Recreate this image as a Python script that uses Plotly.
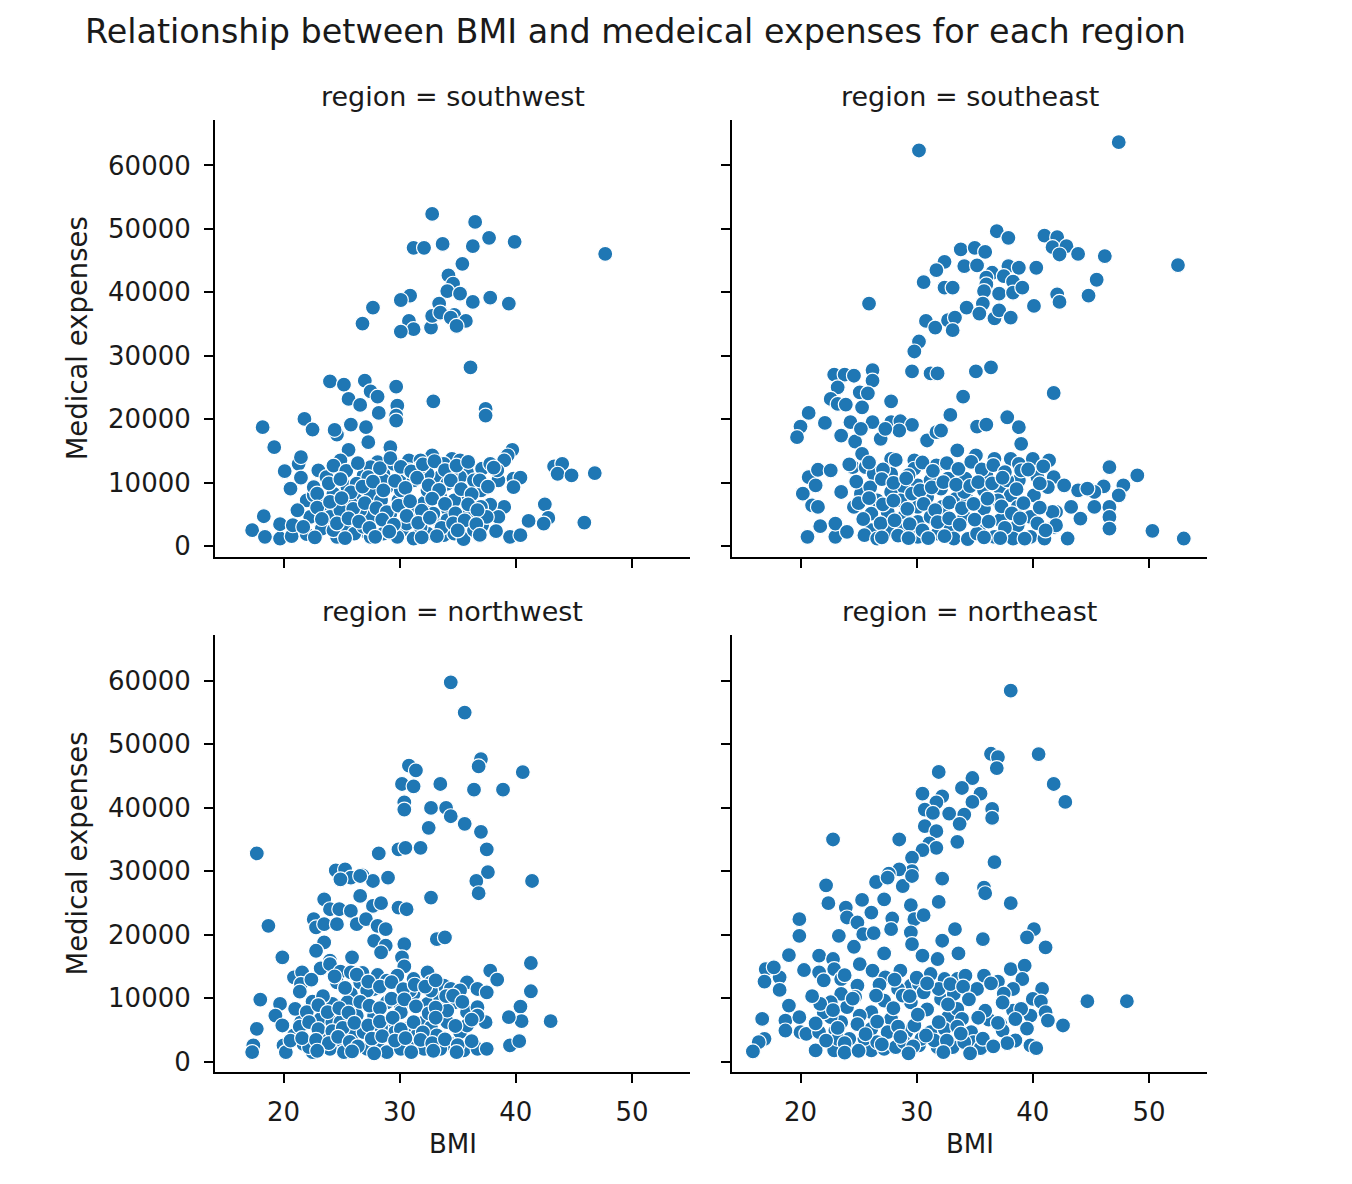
import plotly.graph_objects as go

# ---------------- data ----------------
regions = ["southwest", "southeast", "northwest", "northeast"]

sw_bmi = [32.8, 36.5, 37.7, 39.9, 47.7, 31.2, 32.1, 33.7, 36.3, 35.4, 34.2, 34.6, 34.1, 35.2, 36.3, 37.8, 39.4, 33.4,
          30.9, 30.1, 27.7, 26.8, 30.8, 31.2, 30.1, 32.7, 32.8, 33.5, 34.7, 34.4, 35.7, 34.9, 36.1,
          24.0, 25.2, 27.0, 27.5, 28.1, 29.7, 25.6, 26.6, 32.9, 37.4, 37.4, 29.8, 29.7, 29.7, 28.2, 21.8, 22.5,
          18.2, 19.2, 25.8, 27.1, 24.6, 24.4, 27.3, 29.2, 25.6, 39.7, 39.3, 39.0, 43.3, 44.0, 43.6, 44.8, 46.8,
          42.5, 42.8, 42.4, 41.1, 45.9, 39.5, 40.4, 39.8, 40.4, 39.8, 38.5, 39.0, 38.5, 37.8, 37.1,
          17.3, 18.4, 19.7, 20.7, 19.7, 20.8, 22.0, 23.3, 18.3, 20.1, 21.3, 21.5, 21.5, 20.6, 22.0, 22.6, 23.0,
          23.7, 24.9, 25.6, 24.2, 25.8, 27.1, 25.8, 24.6,
          28.1, 30.8, 32.8, 34.5, 35.8, 37.1, 33.4, 30.4, 28.6, 26.9, 25.5, 27.5, 29.9, 32.1, 34.1, 35.8, 37.0,
          35.2, 33.5, 31.5, 30.2, 28.8, 27.5, 26.3, 24.3, 23.5, 22.6, 24.0, 25.2, 26.1, 27.5, 28.6, 29.8, 31.2,
          32.4, 33.8, 34.7, 35.5, 36.4, 28.9, 31.2, 32.4, 34.1, 35.2, 36.4, 37.8, 38.4, 27.5, 29.5, 31.8, 33.8,
          32.4, 30.1, 28.4, 26.6, 30.9, 32.9, 34.7, 35.8, 37.0, 33.5, 31.8, 26.9, 24.3, 25.8, 24.9, 29.2, 30.6,
          34.1, 37.5, 26.3, 28.6, 30.8, 31.8, 35.2, 34.4, 22.9, 22.3, 21.2, 21.7,
          24.3, 25.4, 26.4, 27.3, 28.3, 29.2, 30.1, 31.0, 32.0, 33.0, 33.9, 34.9, 35.9, 36.9, 38.1,
          23.9, 24.9, 25.8, 26.8, 27.7, 28.6, 29.6, 30.5, 31.5, 32.5, 33.4, 34.4, 35.3, 36.2, 37.6,
          22.9, 24.0, 25.0, 26.0, 27.0, 28.0, 28.9, 29.9, 30.9, 31.9, 32.8, 33.9, 34.8, 35.9, 36.7,
          23.3, 24.6, 25.6, 26.5, 27.4, 28.5, 29.5, 30.6, 31.6, 32.6, 33.6, 34.6, 35.6, 36.6, 38.3,
          22.7, 25.3, 27.9, 29.1, 31.9, 33.2, 35.0, 36.9]
sw_exp = [52350, 51100, 48590, 47960, 46070, 47020, 47020, 47640, 47280, 44500, 42670, 41360, 40210, 39800, 38490,
          39170, 38230, 38230, 39480, 38800, 37600, 35090, 35500, 34200, 33830, 34460, 36290, 36810, 36450, 36030,
          35500, 34720, 28180,
          25980, 25460, 26090, 24410, 23570, 25150, 23210, 22270, 22840, 21640, 20590, 22160, 20590, 19810, 21010,
          20070, 18400, 18760, 15620, 19180, 18760, 17610, 18340, 16410, 15620, 15200, 15200, 14310, 13530, 12590,
          13000, 11430, 11170, 11540, 6620, 4475, 3580, 4000, 3740, 1490, 1750, 10650, 10810, 9340, 10390, 6200,
          4630, 6570, 3320,
          2540, 1490, 1230, 1600, 3480, 3320, 1910, 2800, 4740, 11850, 13000, 14050, 10810, 9080, 7250, 8030, 11960,
          10910, 13530, 9080, 5420, 5260, 2280, 2010, 1490,
          13270, 13530, 14310, 13790, 11700, 12220, 10810, 10810, 11430, 11170, 9340, 8300, 7250, 6830, 5940, 7250,
          8820, 4630, 3580, 4110, 2540, 3580, 4630, 7250, 8300, 6720, 9340, 4630, 3060, 2010, 1490, 2010, 1490, 1230,
          2010, 1750, 2010, 1150, 2540, 9340, 10390, 8820, 9860, 10910, 10390, 13000, 11960, 12480, 13000, 13530,
          13000, 11430, 8820, 7250, 5680, 5680, 5160, 7250, 5160, 6200, 7770, 3060, 3060, 2540, 6720, 5680, 5160,
          3580, 4110, 4630, 9860, 10390, 11960, 12480, 13530, 11430, 8300, 4630, 5680, 3060,
          12700, 11900, 13100, 10900, 12300, 13900, 12500, 11800, 12900, 13400, 12000, 12700, 13300, 10400, 12400,
          9900, 10600, 8500, 9400, 10200, 8800, 10300, 9200, 10800, 9600, 8900, 10400, 9000, 8200, 9400,
          6100, 7000, 7600, 5900, 6800, 6000, 5400, 6400, 7100, 5600, 7500, 6700, 5200, 6600, 5700,
          4300, 3600, 4400, 3900, 2900, 4200, 3400, 4800, 3700, 4500, 2900, 3600, 4100, 3500, 2400,
          1400, 1300, 1500, 2300, 1400, 1600, 2500, 1800]

se_bmi = [30.2, 47.4, 36.9, 37.9, 41.0, 42.1, 41.7, 42.9, 42.3, 43.9, 46.2, 52.5, 33.8, 35.0, 35.9, 32.4, 31.7, 34.1,
          35.2, 36.5, 37.9, 38.8, 40.3, 36.0, 37.5, 38.3, 30.6, 32.4, 33.1, 36.0, 35.8, 37.1, 38.3, 39.1, 42.1, 42.3,
          44.8, 45.5, 40.1, 25.9, 34.3, 35.7, 35.4, 36.7, 37.1, 38.1, 30.8, 31.6, 32.7, 33.3, 33.1, 30.2, 29.8,
          22.9, 23.8, 24.6, 26.2, 26.2, 29.6, 31.2, 31.8, 35.1, 36.4,
          23.2, 25.1, 25.8, 22.6, 23.2, 23.9, 25.3, 27.8, 34.0, 41.8, 20.7, 20.0, 19.7, 22.1, 23.5, 24.7, 24.3, 26.2,
          25.2, 27.8, 28.6, 29.6, 28.5, 26.9, 27.3, 30.9, 31.7, 32.1, 32.9, 35.2, 36.0, 37.8, 38.8, 39.0,
          46.6, 49.0, 47.8, 47.4, 46.1, 45.3, 43.9, 44.7, 45.3, 46.6, 46.6, 46.6, 44.1, 43.3, 42.0, 41.8, 43.0, 50.3,
          53.0, 20.2, 21.0, 21.5, 20.7, 21.5, 22.6, 21.3, 20.6, 21.7, 23.0, 23.0, 24.0,
          25.3, 24.5, 25.6, 26.3, 27.8, 27.8, 29.8, 29.8, 31.7, 33.5, 35.1, 36.7, 38.1, 38.8, 40.0, 41.4, 40.4, 41.8,
          42.7,
          23.5, 25.2, 26.6, 27.8, 28.9, 30.1, 31.2, 32.7, 34.2, 36.0, 37.1, 38.1, 38.8, 40.1, 41.3, 24.6, 26.1, 27.5,
          28.9, 30.1, 30.9, 32.2, 33.4, 34.4, 35.8, 37.0, 38.7, 39.8, 41.7, 26.1, 27.5, 28.9, 30.1, 31.2, 32.9, 34.1,
          35.4, 36.7, 37.2, 38.7, 39.8, 41.0, 25.5, 26.6, 30.1, 31.8, 33.2, 34.4, 35.2, 38.3, 42.0, 28.6, 29.6, 32.1,
          34.1, 35.8, 37.8, 39.0,
          24.2, 25.9, 27.1, 28.2, 29.3, 30.5, 31.4, 32.6, 33.6, 34.7, 35.6, 36.6, 37.6, 39.6, 40.9,
          24.8, 26.0, 27.0, 28.0, 29.1, 30.3, 31.3, 32.3, 33.4, 34.6, 35.3, 36.5, 37.4, 38.6, 40.6,
          25.0, 25.9, 27.1, 28.0, 29.2, 30.6, 31.6, 32.8, 33.9, 34.9, 36.1, 37.3, 38.2, 39.2, 40.6,
          25.4, 26.9, 28.1, 29.4, 30.5, 31.8, 32.8, 33.7, 35.0, 36.2, 37.6, 38.9, 40.4, 41.1,
          27.0, 28.4, 29.3, 31.0, 32.4, 35.8, 37.2, 39.3]
se_exp = [62350, 63660, 49630, 48590, 48950, 48690, 47120, 47280, 45970, 46070, 45710, 44300, 46760, 47020, 46390,
          44820, 43510, 44140, 44240, 43090, 44140, 43880, 43880, 42310, 42570, 41680, 41630, 40740, 40740, 41260,
          40210, 39800, 39950, 40740, 39690, 38490, 39480, 41990, 37860, 38230, 37600, 38230, 36660, 35920, 37180,
          36030, 35500, 34460, 35610, 36030, 34040, 32260, 30690,
          27030, 27030, 26870, 27760, 26090, 27550, 27240, 27240, 27550, 28180,
          25040, 24260, 24100, 23210, 22430, 22320, 21900, 22840, 23570, 24150, 21010, 18870, 17190, 19440, 17450,
          16510, 19550, 19550, 18500, 19550, 19700, 19130, 18240, 16930, 18500, 16670, 17980, 18240, 20700, 18870,
          19180, 20330, 18760, 16150,
          12480, 11170, 9600, 8030, 9450, 8560, 8820, 9080, 6200, 6200, 4630, 2800, 4370, 6200, 5420, 3060, 1230, 2440,
          1230, 8300, 6460, 6200, 10910, 12060, 11960, 9600, 1490, 3170, 1490, 3580, 2280,
          14570, 12480, 12480, 11430, 13790, 11430, 13530, 12220, 12740, 15100, 14310, 13790, 13790, 13000, 13790,
          13530, 10910, 10910, 9600,
          8560, 8300, 7250, 8560, 9340, 9600, 10390, 10650, 10650, 11170, 9340, 8030, 10390, 8030, 9340, 6200, 5160,
          5420, 4630, 6200, 7770, 6200, 7510, 7250, 5940, 7250, 6200, 4630, 5420, 2540, 2540, 3060, 3850, 4630, 3060,
          4630, 3060, 1490, 4110, 3320, 1490, 1230, 1750, 1230, 1490, 2010, 1230, 1150, 2010, 1230, 3320, 7250, 8300,
          9080, 8560, 8820, 10390, 11960,
          12900, 13200, 12100, 13600, 11200, 13200, 11900, 13100, 12200, 13300, 12100, 12800, 11700, 12100, 12600,
          10200, 9300, 10600, 10000, 10700, 8800, 9300, 10100, 9700, 9500, 10100, 9900, 10800, 9000, 9900,
          6800, 7600, 6600, 7200, 5900, 6700, 5700, 6900, 6000, 6700, 7500, 6300, 5200, 6800, 6100,
          4300, 3600, 4100, 3500, 2500, 3800, 4400, 3400, 4200, 3900, 2900, 4400, 3600, 2500,
          1400, 1700, 1300, 1300, 1600, 1400, 1300, 1200]

nw_bmi = [34.4, 35.6, 30.8, 31.4, 37.0, 36.8, 40.6, 30.2, 31.2, 33.5, 36.4, 38.9, 30.4, 30.4, 32.7, 34.0, 34.4, 35.6,
          37.0, 32.5, 37.5, 17.7, 28.2, 29.9, 30.5, 31.8, 37.6, 24.5, 25.3, 25.8, 26.8, 27.7, 29.0, 36.6, 41.4,
          36.8, 24.9, 26.6, 23.5, 26.6, 24.0, 24.8, 25.8, 27.7, 28.4, 32.7, 29.9, 30.6, 22.6, 22.8, 23.5, 24.6, 26.3,
          27.1, 28.1, 28.8, 18.7, 27.8, 28.8, 28.4, 30.4, 33.2, 33.9, 23.5, 22.8, 25.9, 24.0, 19.9, 30.2, 30.4, 37.8,
          38.4, 41.3, 41.3, 40.4, 40.5, 39.4, 43.0, 39.5, 40.3, 18.0, 17.7, 17.4, 17.3, 20.9, 21.6, 21.5, 19.7, 19.3,
          19.9, 21.2, 20.0, 20.2, 21.7, 22.5, 21.5, 22.5,
          23.2, 24.0, 24.9, 25.8, 26.8, 28.1, 28.9, 29.8, 31.2, 32.4, 32.7, 33.8, 34.4, 35.8, 36.7, 37.5,
          24.6, 25.8, 26.6, 27.8, 28.9, 30.1, 31.2, 32.4, 33.5, 34.7, 35.8, 36.7, 37.4,
          23.2, 24.2, 24.2, 25.5, 26.3, 27.8, 28.9, 30.1, 30.9, 32.1, 32.7, 34.1, 35.2, 35.8, 36.7,
          23.5, 24.6, 25.9, 26.9, 28.1, 29.6, 30.9, 32.1, 33.2, 34.4, 35.5, 36.7, 37.5, 24.0, 25.2, 27.2, 28.9, 30.1,
          33.5, 20.9, 22.2, 27.2, 30.9, 32.7, 34.1, 24.9, 28.4, 31.5,
          21.4, 22.4, 23.4, 24.4, 25.3, 26.3, 27.3, 28.3, 29.3, 30.3, 31.3, 32.2, 33.1, 34.0, 35.2,
          21.0, 22.0, 23.0, 23.8, 24.8, 25.6, 26.6, 27.4, 28.3, 29.3, 30.4, 31.4, 32.5, 33.1, 34.6, 35.4,
          21.4, 22.2, 23.0, 24.2, 25.1, 26.1, 27.3, 28.3, 29.4, 30.1, 31.2, 32.0, 33.1, 34.8, 36.2,
          20.6, 21.6, 22.8, 23.9, 24.7, 25.7, 26.4, 27.6, 28.5, 29.6, 30.5, 31.8, 32.8, 33.9, 35.0, 36.2,
          22.9, 25.9, 27.8, 31.0, 32.9, 34.9]
nw_exp = [59730, 54970, 46600, 45860, 47640, 46490, 45600, 43720, 43350, 43720, 42830, 42830, 40840, 39690, 39950,
          39950, 38640, 37440, 36190, 36810, 33410, 32780, 32780, 33410, 33670, 33670, 29850, 30110, 30270, 28960,
          29330, 28440, 28960, 28440, 28440,
          26510, 28700, 29230, 25560, 26090, 23990, 23990, 23730, 24520, 24940, 25830, 24260, 23990, 22430, 21120,
          21640, 21640, 21640, 22430, 21380, 20850, 21380, 19020, 18240, 17190, 18500, 19290, 19550, 18760, 17450,
          16410, 15880, 16410, 16410, 14990, 14310, 12900, 15520, 11070, 8660, 6360, 6990, 6360, 2540, 3220, 9760,
          5160, 2540, 1490, 13270, 14050, 12220, 9080, 7250, 5680, 4110, 2540, 1490, 2800, 1490, 6200, 9440,
          14680, 15360, 14160, 14050, 13950, 13630, 12740, 13530, 13000, 14050, 12480, 11960, 11430, 12480, 11430,
          10910,
          12480, 10650, 12480, 11430, 9340, 8820, 10650, 9080, 9860, 9340, 7770, 8560, 6200,
          6720, 9080, 6200, 9340, 7250, 7250, 6200, 7770, 5420, 6200, 5420, 6200, 4630, 5680, 7250,
          4110, 3060, 4110, 4630, 3060, 4630, 2800, 2010, 4110, 2800, 1750, 2010, 2010, 2010, 1490, 2010, 1490, 2010,
          2010, 4110, 2280, 11170, 11170, 11170, 8030, 6200, 5420, 4110,
          11000, 12900, 10300, 13400, 11600, 13700, 12600, 11800, 12500, 11400, 12100, 11800, 12800, 10300, 11200,
          8300, 7800, 8900, 7800, 8400, 7700, 9400, 8800, 8400, 9900, 9800, 8700, 7600, 8500, 10400, 9400,
          5500, 6200, 5100, 4800, 5300, 6100, 5700, 6300, 6900, 5100, 6200, 4600, 6900, 5600, 6600,
          3300, 3700, 3400, 2900, 3900, 3100, 2400, 3600, 4000, 3300, 3700, 3400, 2900, 3500, 2600, 3200,
          1700, 1600, 1300, 1500, 1700, 1500]

ne_bmi = [38.1, 36.4, 37.0, 36.9, 40.5, 41.8, 42.8, 31.9, 34.8, 33.9, 35.5, 34.8, 30.5, 32.2, 31.7, 30.7, 31.4, 32.8,
          34.1, 36.5, 36.5, 30.7, 31.7, 33.7, 31.1, 31.7, 30.5, 29.6, 33.5, 28.5, 22.8, 36.7, 29.6, 28.5, 27.6, 32.2,
          26.5, 22.2, 28.8, 35.8,
          27.5, 29.6, 32.2, 22.4, 31.9, 35.9, 38.1, 23.9, 25.3, 26.1, 24.0, 24.9, 25.4, 26.3, 23.3, 27.2, 29.5, 27.9,
          27.8, 29.8, 30.6, 29.5, 29.6, 33.3, 32.2, 35.7, 33.6, 30.5, 31.8, 40.1, 39.5, 41.1, 19.9, 19.9, 19.0, 27.2,
          24.6, 17.0, 16.9, 18.2, 18.2, 17.7, 20.3, 21.6, 21.6, 22.8, 22.9, 23.5, 25.1, 26.2, 27.3, 28.6, 29.5, 30.2,
          31.2, 32.4, 33.5, 34.2, 35.8, 37.0, 38.1, 39.3, 39.1, 38.3, 35.2, 44.7, 48.1, 40.8, 40.0, 40.7, 39.8, 41.1,
          41.3, 42.6, 38.3, 39.0, 36.2, 37.2, 37.4, 38.5, 39.8, 40.3, 34.7, 34.9, 35.5, 16.7, 16.9, 16.4, 15.9, 19.0,
          18.7, 18.7, 19.9, 20.0, 20.5, 21.3, 22.9, 24.3, 26.1, 27.2, 28.2, 30.2, 31.8, 33.1, 21.6, 23.0, 23.5, 24.0,
          22.6, 22.0, 24.9, 23.5, 22.6, 21.7, 26.1, 25.1, 27.2, 28.4, 27.8, 26.1, 27.5, 29.1, 29.8, 31.2, 32.7, 32.4,
          33.5, 33.9, 29.5, 30.6, 32.1, 33.2, 31.9, 24.2, 25.5, 26.6, 28.9, 30.4, 31.5, 34.1, 23.2,
          22.0, 23.8, 24.7, 26.8, 28.1, 28.8, 30.0, 30.9, 32.9, 34.0, 36.4, 37.5,
          21.0, 22.8, 24.5, 26.5, 28.0, 29.4, 30.9, 32.7, 34.5, 35.9, 37.4, 38.5,
          21.3, 23.2, 24.9, 26.6, 28.4, 30.1, 31.9, 33.5, 35.3, 37.0, 39.5,
          22.2, 23.8, 25.6, 27.0, 28.6, 29.7, 30.8, 32.6, 33.8, 35.7, 37.8,
          23.8, 25.0, 29.3, 32.3, 34.6, 36.6]
ne_exp = [58420, 48480, 47960, 46230, 48430, 43720, 40890, 45610, 44660, 43090, 42200, 40890, 42200, 41780, 40840,
          39690, 39170, 39060, 38910, 39800, 38380, 37070, 36290, 37440, 34350, 33670, 33310, 32100, 34610, 34980,
          34980, 31420, 30010, 30270, 29590, 28960, 28280, 27760, 27650, 27390,
          28970, 29230, 28810, 24940, 25140, 26510, 24940, 24260, 25460, 23470, 22690, 21900, 20070, 20230, 19810,
          25560, 24620, 22530, 20850, 22430, 23050, 20330, 18500, 20850, 19030, 19290, 17030, 16670, 16150, 20850,
          19550, 17980, 22430, 19810, 16770, 17030, 18080, 14570, 12590, 13270, 11280, 14840, 14420, 16670, 14050,
          16150, 14570, 13000, 15360, 14310, 13270, 14310, 11960, 12220, 13790, 13000, 13000, 13530, 13530, 12590,
          14570, 15100, 13000, 11430, 11430, 9500, 9500, 11430, 9860, 9450, 7250, 7770, 6460, 5680, 8030, 8300, 6620,
          5940, 4890, 3320, 2540, 2120, 4630, 3060, 2120, 6720, 3580, 3060, 1600, 8820, 6460, 4890, 6990, 4630, 4370,
          1750, 1750, 2280, 1750, 2010, 2280, 2540, 2280, 2280, 4630, 4890, 6200, 8560, 6990, 7770, 11960, 10650,
          9340, 9080, 7770, 7250, 9600, 11430, 6720, 5160, 4630, 4630, 5680, 4630, 7000, 5160, 8300, 6720, 9340,
          10910, 9860, 10650, 11430, 3580, 3580, 3060, 3060, 3580, 3320, 3060, 3580,
          12800, 13600, 10200, 12100, 12900, 10400, 13200, 12300, 12200, 11800, 12300, 10700,
          10300, 8100, 9900, 10400, 8400, 10300, 8200, 9000, 9800, 8000, 9300, 6700,
          6000, 5300, 5900, 6300, 5500, 7400, 6200, 5500, 6900, 6100, 5200,
          3300, 2900, 4300, 2700, 3900, 2400, 4100, 3300, 4400, 3600, 2900,
          1400, 1700, 1300, 1500, 1300, 2400]

x_ticks = [20, 30, 40, 50]
y_ticks = [0, 10000, 20000, 30000, 40000, 50000, 60000]
y_tick_text = ["0", "10000", "20000", "30000", "40000", "50000", "60000"]
x_range = [14.1, 55.0]
y_range = [-1700, 67212]

series = {
    "southwest": (sw_bmi, sw_exp),
    "southeast": (se_bmi, se_exp),
    "northwest": (nw_bmi, nw_exp),
    "northeast": (ne_bmi, ne_exp),
}

# ---------------- figure ----------------
OFF = 8                      # page body margin
W, H = 1352 - 2 * OFF, 1184 - 2 * OFF
FONT = "DejaVu Sans"
TXT = "#1a1a1a"


def px(p):
    return (p - OFF) / W


def py(p):
    return 1 - (p - OFF) / H


# panel pixel boxes in the screenshot (left, right, top, bottom)
boxes = {
    "southwest": (215, 690, 120, 559),
    "southeast": (732, 1207, 120, 559),
    "northwest": (215, 690, 637, 1076),
    "northeast": (732, 1207, 637, 1076),
}

fig = go.Figure()
layout = dict(
    width=W, height=H,
    margin=dict(l=0, r=0, t=0, b=0),
    paper_bgcolor="white", plot_bgcolor="white",
    showlegend=False,
    font=dict(family=FONT, size=26, color=TXT),
)

annotations = []
for i, reg in enumerate(regions, start=1):
    bx, ex = series[reg]
    l, r, t, b = boxes[reg]
    xa = "x" if i == 1 else f"x{i}"
    ya = "y" if i == 1 else f"y{i}"
    fig.add_trace(go.Scatter(
        x=bx, y=ex, mode="markers", xaxis=xa, yaxis=ya,
        marker=dict(color="#1f77b4", size=15, line=dict(color="white", width=1.2)),
        hoverinfo="skip",
    ))
    is_bottom = reg in ("northwest", "northeast")
    is_left = reg in ("southwest", "northwest")
    common = dict(showgrid=False, zeroline=False, showline=True, linecolor="black", linewidth=2,
                  ticks="outside", ticklen=9, tickwidth=2, tickcolor="black",
                  tickfont=dict(family=FONT, size=26, color=TXT), mirror=False)
    layout["xaxis" if i == 1 else f"xaxis{i}"] = dict(
        common, domain=[px(l), px(r)], anchor=ya, range=x_range,
        tickmode="array", tickvals=x_ticks, ticktext=[str(v) for v in x_ticks],
        showticklabels=is_bottom, ticklabelstandoff=6,
    )
    layout["yaxis" if i == 1 else f"yaxis{i}"] = dict(
        common, domain=[py(b), py(t)], anchor=xa, range=y_range,
        tickmode="array", tickvals=y_ticks, ticktext=y_tick_text,
        showticklabels=is_left, ticklabelstandoff=8,
    )
    cx = (l + r) / 2
    annotations.append(dict(text=f"region = {reg}", x=px(cx), y=py(t - 23), xref="paper", yref="paper",
                            showarrow=False, xanchor="center", yanchor="middle",
                            font=dict(family=FONT, size=27, color=TXT)))
    if is_bottom:
        annotations.append(dict(text="BMI", x=px(cx), y=py(1148), xref="paper", yref="paper",
                                showarrow=False, xanchor="center", yanchor="middle",
                                font=dict(family=FONT, size=26, color=TXT)))
    if is_left:
        annotations.append(dict(text="Medical expenses", x=px(77), y=py((t + b) / 2), xref="paper",
                                yref="paper", showarrow=False, xanchor="center", yanchor="middle",
                                textangle=-90, font=dict(family=FONT, size=27.5, color=TXT)))

annotations.append(dict(text="Relationship between BMI and medeical expenses for each region",
                        x=px(635), y=py(32), xref="paper", yref="paper", showarrow=False,
                        xanchor="center", yanchor="middle", font=dict(family=FONT, size=33.4, color=TXT)))
layout["annotations"] = annotations
fig.update_layout(**layout)
fig.write_html("out.html")
